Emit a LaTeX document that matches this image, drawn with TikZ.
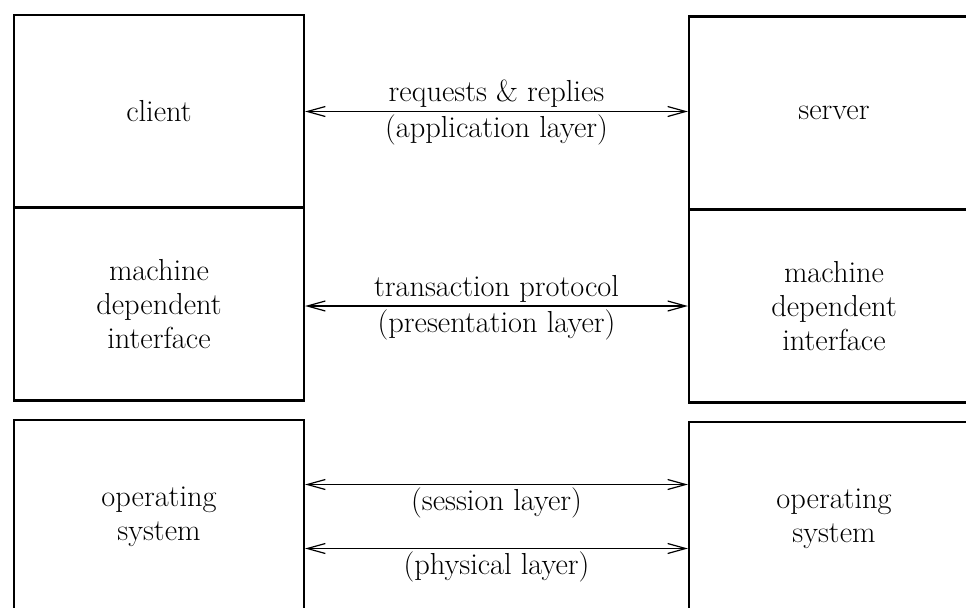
\documentclass[tikz,border=0pt]{standalone}
\usepackage{amsmath}
\usetikzlibrary{arrows.meta}

\begin{document}
\begin{tikzpicture}[x=0.5pt,y=-0.5pt,
        box/.style={draw,line width=1.1pt,minimum width=145pt,minimum height=96.5pt,inner sep=0pt,align=center},
        link/.style={{Straight Barb[length=9pt,width=5pt]}-{Straight Barb[length=9pt,width=5pt]},line width=0.6pt},
        lbl/.style={inner sep=1.5pt},
        font=\fontsize{15.2}{17}\selectfont]

    \clip (0,0) rectangle (966,607);

    % left column
    \node[box] (cl)  at (159,111.5) {client};
    \node[box] (mdl) at (159,304)   {machine\\dependent\\interface};
    \node[box] (osl) at (159,516.5) {operating\\system};

    % right column
    \node[box] (sv)  at (834,113)   {server};
    \node[box] (mdr) at (834,306)   {machine\\dependent\\interface};
    \node[box] (osr) at (834,518.5) {operating\\system};

    \draw[link] (cl.east) -- node[lbl,above]{requests \& replies} node[lbl,below]{(application layer)} (cl.east -| sv.west);
    \draw[link] (mdl.east |- mdr.west) -- node[lbl,above]{transaction protocol} node[lbl,below]{(presentation layer)} (mdr.west);
    \draw[link] ([yshift=16pt]osl.east) -- node[lbl,below]{(session layer)} ([yshift=16pt]osl.east -| osr.west);
    \draw[link] ([yshift=-16pt]osl.east) -- node[lbl,below]{(physical layer)} ([yshift=-16pt]osl.east -| osr.west);
\end{tikzpicture}
\end{document}
